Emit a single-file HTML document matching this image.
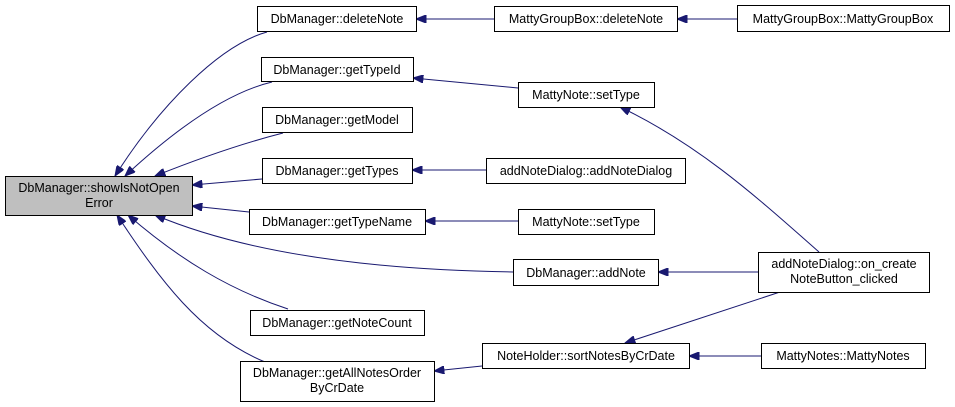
<!DOCTYPE html>
<html><head><meta charset="utf-8"><style>
html,body{margin:0;padding:0;background:#fff;}
svg{display:block;}
text{font-family:"Liberation Sans",Arial,sans-serif;font-size:12.5px;fill:#000;text-anchor:middle;}
rect{fill:#fff;stroke:#000;stroke-width:1;}
path{fill:none;stroke:#191970;stroke-width:1;}
</style></head><body>
<svg width="955" height="407" viewBox="0 0 955 407" xmlns="http://www.w3.org/2000/svg">
<defs>
<marker id="a" viewBox="0 0 10 8" refX="10" refY="4" markerWidth="11" markerHeight="8" markerUnits="userSpaceOnUse" orient="auto">
<path d="M0,0 L10,4 L0,8 Z" style="fill:#191970;stroke:#191970"/>
</marker>
</defs>
<!-- edges from main -->
<path d="M267,32 C220,45 160,105 115,176" marker-end="url(#a)"/>
<path d="M272,82 C230,92 180,125 125,176" marker-end="url(#a)"/>
<path d="M283,133 C240,144 200,158 155,176" marker-end="url(#a)"/>
<path d="M262,179 L192,185" marker-end="url(#a)"/>
<path d="M249,212 L192,206" marker-end="url(#a)"/>
<path d="M513,272 C380,270 250,255 155,215" marker-end="url(#a)"/>
<path d="M288,309 C230,290 180,260 128,215" marker-end="url(#a)"/>
<path d="M265,362 C200,335 160,280 117,215" marker-end="url(#a)"/>
<!-- other edges -->
<path d="M494,19 L416,19" marker-end="url(#a)"/>
<path d="M737,19 L677,19" marker-end="url(#a)"/>
<path d="M518,88 L413,78" marker-end="url(#a)"/>
<path d="M486,170 L412,170" marker-end="url(#a)"/>
<path d="M518,221 L425,221" marker-end="url(#a)"/>
<path d="M758,272 L658,272" marker-end="url(#a)"/>
<path d="M819,252 C760,200 700,145 620,107" marker-end="url(#a)"/>
<path d="M780,292 L625,343" marker-end="url(#a)"/>
<path d="M761,356 L689,356" marker-end="url(#a)"/>
<path d="M482,366 L434,371" marker-end="url(#a)"/>
<!-- nodes -->
<rect x="5.5" y="176.5" width="187" height="39" style="fill:#bfbfbf"/>
<text x="99" y="192">DbManager::showIsNotOpen</text><text x="99" y="207">Error</text>

<rect x="257.5" y="6.5" width="159" height="25"/><text x="337" y="23">DbManager::deleteNote</text>
<rect x="261.5" y="57.5" width="152" height="24"/><text x="337" y="74">DbManager::getTypeId</text>
<rect x="262.5" y="107.5" width="150" height="25"/><text x="337" y="124">DbManager::getModel</text>
<rect x="262.5" y="158.5" width="150" height="25"/><text x="337" y="175">DbManager::getTypes</text>
<rect x="249.5" y="209.5" width="176" height="25"/><text x="337" y="226">DbManager::getTypeName</text>
<rect x="250.5" y="310.5" width="174" height="25"/><text x="337" y="327">DbManager::getNoteCount</text>
<rect x="240.5" y="361.5" width="194" height="40"/>
<text x="337" y="377">DbManager::getAllNotesOrder</text><text x="337" y="392">ByCrDate</text>

<rect x="494.5" y="6.5" width="183" height="25"/><text x="586" y="23">MattyGroupBox::deleteNote</text>
<rect x="737.5" y="5.5" width="212" height="26"/><text x="843" y="23">MattyGroupBox::MattyGroupBox</text>
<rect x="518.5" y="82.5" width="136" height="25"/><text x="586" y="99">MattyNote::setType</text>
<rect x="486.5" y="158.5" width="199" height="25"/><text x="586" y="175">addNoteDialog::addNoteDialog</text>
<rect x="518.5" y="209.5" width="136" height="25"/><text x="586" y="226">MattyNote::setType</text>
<rect x="513.5" y="259.5" width="145" height="26"/><text x="586" y="277">DbManager::addNote</text>
<rect x="758.5" y="252.5" width="171" height="40"/>
<text x="844" y="268">addNoteDialog::on_create</text><text x="844" y="283">NoteButton_clicked</text>
<rect x="482.5" y="343.5" width="207" height="25"/><text x="586" y="360">NoteHolder::sortNotesByCrDate</text>
<rect x="761.5" y="343.5" width="164" height="25"/><text x="843" y="360">MattyNotes::MattyNotes</text>
</svg>
</body></html>
